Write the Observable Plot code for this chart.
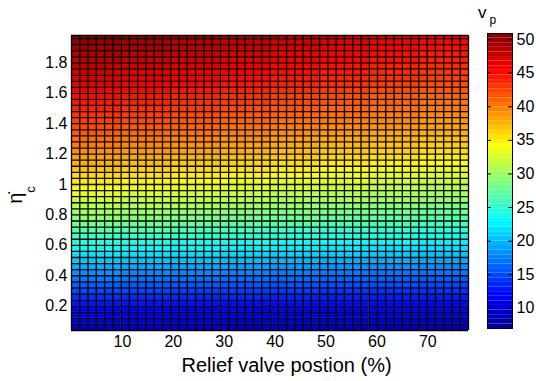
<!DOCTYPE html>
<html><head><meta charset="utf-8">
<script src="https://cdn.jsdelivr.net/npm/d3@7"></script>
<script src="https://cdn.jsdelivr.net/npm/@observablehq/plot@0.6"></script>
<style>
body{margin:0;background:#fff}
#wrap{position:relative;width:536px;height:381px}
#wrap svg{position:absolute;left:0;top:0}
</style>
</head><body><div id="wrap"></div>
<script>
// v_p values, rows bottom (eta=0.04..0.08) to top (1.94..1.98); 8 column groups across x
const vpRows = [
[9.6,9.5,9.4,9.3,9.3,9.2,9.1,9.0],
[10.3,10.3,10.2,10.1,10.0,9.9,9.9,9.8],
[11.1,11.0,10.9,10.9,10.8,10.7,10.6,10.5],
[11.9,11.8,11.7,11.6,11.5,11.4,11.4,11.3],
[12.8,12.7,12.6,12.5,12.4,12.3,12.2,12.1],
[13.9,13.8,13.7,13.6,13.4,13.3,13.2,13.1],
[15.0,14.9,14.7,14.6,14.5,14.3,14.2,14.1],
[16.1,15.9,15.8,15.6,15.5,15.3,15.2,15.0],
[17.2,17.0,16.8,16.7,16.5,16.3,16.2,16.0],
[18.3,18.1,18.0,17.8,17.6,17.4,17.2,17.1],
[19.6,19.4,19.2,19.0,18.8,18.6,18.4,18.2],
[20.8,20.6,20.4,20.2,19.9,19.7,19.5,19.3],
[22.0,21.8,21.6,21.3,21.1,20.9,20.7,20.4],
[23.3,23.0,22.8,22.5,22.3,22.0,21.8,21.6],
[24.5,24.2,23.9,23.7,23.4,23.2,22.9,22.6],
[25.6,25.3,25.0,24.8,24.5,24.2,23.9,23.6],
[26.8,26.5,26.2,25.9,25.6,25.3,25.0,24.7],
[27.9,27.6,27.3,26.9,26.6,26.3,26.0,25.7],
[29.1,28.7,28.4,28.0,27.7,27.4,27.0,26.7],
[30.1,29.8,29.4,29.0,28.7,28.3,28.0,27.6],
[31.1,30.7,30.4,30.0,29.6,29.2,28.9,28.5],
[32.1,31.7,31.3,30.9,30.5,30.1,29.7,29.3],
[33.1,32.7,32.3,31.9,31.4,31.0,30.6,30.2],
[34.1,33.7,33.2,32.8,32.4,31.9,31.5,31.1],
[35.0,34.6,34.1,33.7,33.2,32.8,32.3,31.9],
[35.8,35.4,34.9,34.5,34.0,33.6,33.1,32.6],
[36.7,36.2,35.7,35.3,34.8,34.3,33.9,33.4],
[37.5,37.0,36.5,36.1,35.6,35.1,34.6,34.1],
[38.3,37.8,37.3,36.9,36.4,35.9,35.4,34.9],
[39.1,38.6,38.1,37.6,37.1,36.6,36.1,35.6],
[39.8,39.3,38.8,38.3,37.8,37.2,36.7,36.2],
[40.5,40.0,39.5,39.0,38.4,37.9,37.4,36.9],
[41.3,40.7,40.2,39.6,39.1,38.6,38.0,37.5],
[42.0,41.4,40.9,40.3,39.8,39.2,38.7,38.2],
[42.6,42.1,41.5,41.0,40.4,39.8,39.3,38.7],
[43.2,42.7,42.1,41.5,41.0,40.4,39.8,39.3],
[43.8,43.2,42.7,42.1,41.5,40.9,40.4,39.8],
[44.4,43.8,43.2,42.7,42.1,41.5,40.9,40.3],
[45.0,44.4,43.8,43.2,42.6,42.0,41.4,40.8],
[45.7,45.1,44.5,43.9,43.3,42.7,42.1,41.5],
[46.2,45.6,45.0,44.4,43.8,43.2,42.6,42.0],
[46.7,46.1,45.5,44.9,44.3,43.7,43.1,42.5],
[47.2,46.6,46.0,45.4,44.8,44.2,43.5,42.9],
[47.7,47.1,46.5,45.9,45.2,44.6,44.0,43.4],
[48.3,47.6,47.0,46.4,45.7,45.1,44.5,43.8],
[48.8,48.2,47.5,46.9,46.2,45.6,44.9,44.3],
[49.3,48.7,48.0,47.4,46.7,46.0,45.4,44.7],
[49.9,49.2,48.5,47.8,47.2,46.5,45.8,45.1],
[50.4,49.7,49.0,48.3,47.6,46.9,46.2,45.5]
];
const yEdges = [0.04,0.08,0.12,0.16,0.2,0.24,0.28,0.32,0.36,0.4,0.44,0.48,0.52,0.56,0.6,0.64,0.68,0.72,0.76,0.8,0.84,0.88,0.92,0.96,1.0,1.04,1.08,1.12,1.16,1.2,1.24,1.28,1.32,1.36,1.4,1.44,1.48,1.52,1.56,1.6,1.64,1.68,1.72,1.76,1.8,1.84,1.88,1.92,1.96,1.98];
const xGroupEdges = [0,9.75,19.5,29.25,39,48.75,58.5,68.25,78];
const xGrid = [0,1.625,3.25,4.875,6.5,8.125,9.75,11.375,13,14.625,16.25,17.875,19.5,21.125,22.75,24.375,26,27.625,29.25,30.875,32.5,34.125,35.75,37.375,39,40.625,42.25,43.875,45.5,47.125,48.75,50.375,52,53.625,55.25,56.875,58.5,60.125,61.75,63.375,65,66.625,68.25,69.875,71.5,73.125,74.75,76.375,78];
const xTicks = [10,20,30,40,50,60,70];
const yTicks = [0.2,0.4,0.6,0.8,1,1.2,1.4,1.6,1.8];
const cbTicks = [10,15,20,25,30,35,40,45,50];
const xLabel = "Relief valve postion (%)";

const font = "'Liberation Sans', Arial, sans-serif";
const colorScale = {type:"linear", domain:[7,11.9,23,34.2,45.3,50.9],
  range:["#000090","#0000ff","#00ffff","#ffff00","#ff0000","#800000"], interpolate:"rgb", clamp:true};

const cells = vpRows.flatMap((row,i)=>row.map((v,k)=>({x1:xGroupEdges[k],x2:xGroupEdges[k+1],y1:yEdges[i],y2:yEdges[i+1],v})));

const main = Plot.plot({
  width:536,height:381,marginLeft:71,marginRight:68,marginTop:35,marginBottom:51,
  style:{fontFamily:font,fontSize:"16px",background:"transparent",color:"black"},
  x:{domain:[0,78],ticks:xTicks,tickSize:0,tickPadding:5,label:null},
  y:{domain:[0.04,1.98],ticks:yTicks,tickSize:0,tickPadding:4,label:null,tickFormat:d=>String(d)},
  color:colorScale,
  marks:[
    Plot.rect(cells,{x1:"x1",x2:"x2",y1:"y1",y2:"y2",fill:"v"}),
    Plot.ruleX(xGrid,{y1:0.04,y2:1.98,stroke:"black",strokeWidth:1.3}),
    Plot.ruleY(yEdges,{x1:0,x2:78,stroke:"black",strokeWidth:1.3}),
    Plot.text([xLabel],{frameAnchor:"bottom-left",dx:110,dy:41,textAnchor:"start",fontSize:20,fill:"black"})
  ]
});

const levels = d3.range(64).map(i=>({y1:7+i*43.9/64,y2:7+(i+1)*43.9/64,v:7+(i+0.5)*43.9/64}));
const cbar = Plot.plot({
  width:536,height:381,marginLeft:487,marginRight:24,marginTop:33,marginBottom:53,
  style:{fontFamily:font,fontSize:"16px",background:"transparent",color:"black"},
  x:{domain:[0,1],axis:null},
  y:{domain:[7,50.9],ticks:cbTicks,tickSize:0,tickPadding:4,label:null,axis:"right"},
  color:colorScale,
  marks:[
    Plot.rect(levels,{x1:0,x2:1,y1:"y1",y2:"y2",fill:"v"}),
    Plot.tickY(cbTicks,{y:d=>d,insetLeft:21,stroke:"black"}),
    Plot.tickY(cbTicks,{y:d=>d,insetRight:21,stroke:"black"}),
    Plot.frame({stroke:"black"})
  ]
});

const wrap = document.getElementById("wrap");
wrap.appendChild(main);
wrap.appendChild(cbar);

const svg = d3.select(main);
const yl = svg.append("text").attr("transform","translate(22,195) rotate(-90)")
  .attr("font-family",font).attr("font-size",20).attr("fill","black");
yl.append("tspan").text("\u03B7\u0307");
yl.append("tspan").attr("dy",13).attr("font-size",13).text("c");

const vl = svg.append("text").attr("x",487).attr("y",18)
  .attr("font-family",font).attr("font-size",17).attr("fill","black");
vl.append("tspan").text("v");
vl.append("tspan").attr("dx",3).attr("dy",6).attr("font-size",12).text("p");
</script>
</body></html>
